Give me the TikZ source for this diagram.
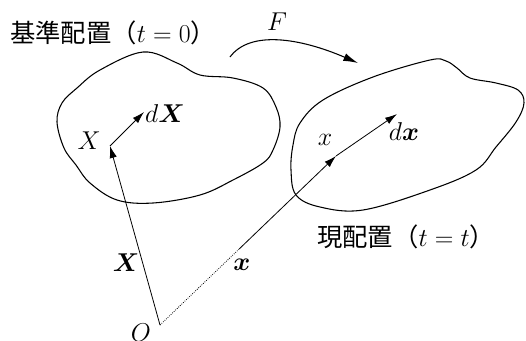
\documentclass[tikz,border=0pt]{standalone}
\usepackage{fontspec}
\usepackage{amsmath}
\usepackage{bm}
\usepackage{graphicx}
\usetikzlibrary{arrows.meta,calc}
\newfontfamily\cjk{Noto Sans CJK JP}
\newcommand{\mlb}[1]{\scalebox{1.12}{$#1$}}
\begin{document}
\begin{tikzpicture}[x=0.75pt,y=-0.75pt,
  blob/.style={line width=0.8pt},
  vec/.style={line width=0.6pt,-{Latex[length=9pt,width=5.5pt]}},
  lbl/.style={font=\LARGE,inner sep=1pt},
  jlbl/.style={font=\fontsize{19}{22}\selectfont,inner sep=0pt}]
\useasboundingbox (0,0) rectangle (526,340);
% blobs
\draw[blob] plot[smooth cycle,tension=0.6] coordinates {(143,52) (177,63) (200,75) (233,78) (263,88) (276,107) (280,127) (273,150) (263,163) (233,180) (200,195) (153,203) (117,200) (90,183) (76,165) (64,148) (57,122) (62,103) (77,88) (100,70)};
\draw[blob] plot[smooth cycle,tension=0.6] coordinates {(300,123) (323,100) (373,77) (430,60) (446,61) (457,68) (470,78) (496,83) (518,90) (524,103) (516,122) (496,147) (476,170) (430,190) (363,210) (320,207) (296,195) (291,170) (293,145)};
% points
\coordinate (O) at (160,325);
\coordinate (P) at (110,146);
\coordinate (p) at (336,156);
\coordinate (dXe) at (144,112);
\coordinate (dxe) at (397,114);
\coordinate (Fs) at (230,57);
\coordinate (Fe) at (358,63);
% vectors
\draw[vec] (O) -- (P);
\draw[vec] (P) -- (dXe);
\coordinate (mid) at ($(O)!0.45!(p)$);
\draw[line width=0.6pt,densely dotted] (O) -- (mid);
\draw[vec] (mid) -- (p);
\draw[vec] (p) -- (dxe);
\draw[line width=0.8pt,-{Latex[length=11pt,width=6pt]}] (Fs) .. controls (250,30) and (300,38) .. (Fe);
% labels
\node[jlbl,anchor=west] (t0) at (10,33) {{\cjk 基準配置（}\mlb{t=0}{\cjk ）}};
\node[jlbl,anchor=west] (tt) at (317,237) {{\cjk 現配置（}\mlb{t=t}{\cjk ）}};
\node[lbl] (Fl) at (277,22) {\mlb{F}};
\node[lbl] (Xl) at (89,141) {\mlb{X}};
\node[lbl] (dXl) at (165,114) {\mlb{d\bm{X}}};
\node[lbl] (xl) at (325,140) {\mlb{x}};
\node[lbl] (dxl) at (404,132) {\mlb{d\bm{x}}};
\node[lbl] (XV) at (126,263) {\mlb{\bm{X}}};
\node[lbl] (xV) at (242,265) {\mlb{\bm{x}}};
\node[lbl] (Ol) at (141,333) {\mlb{O}};
\end{tikzpicture}
\end{document}
